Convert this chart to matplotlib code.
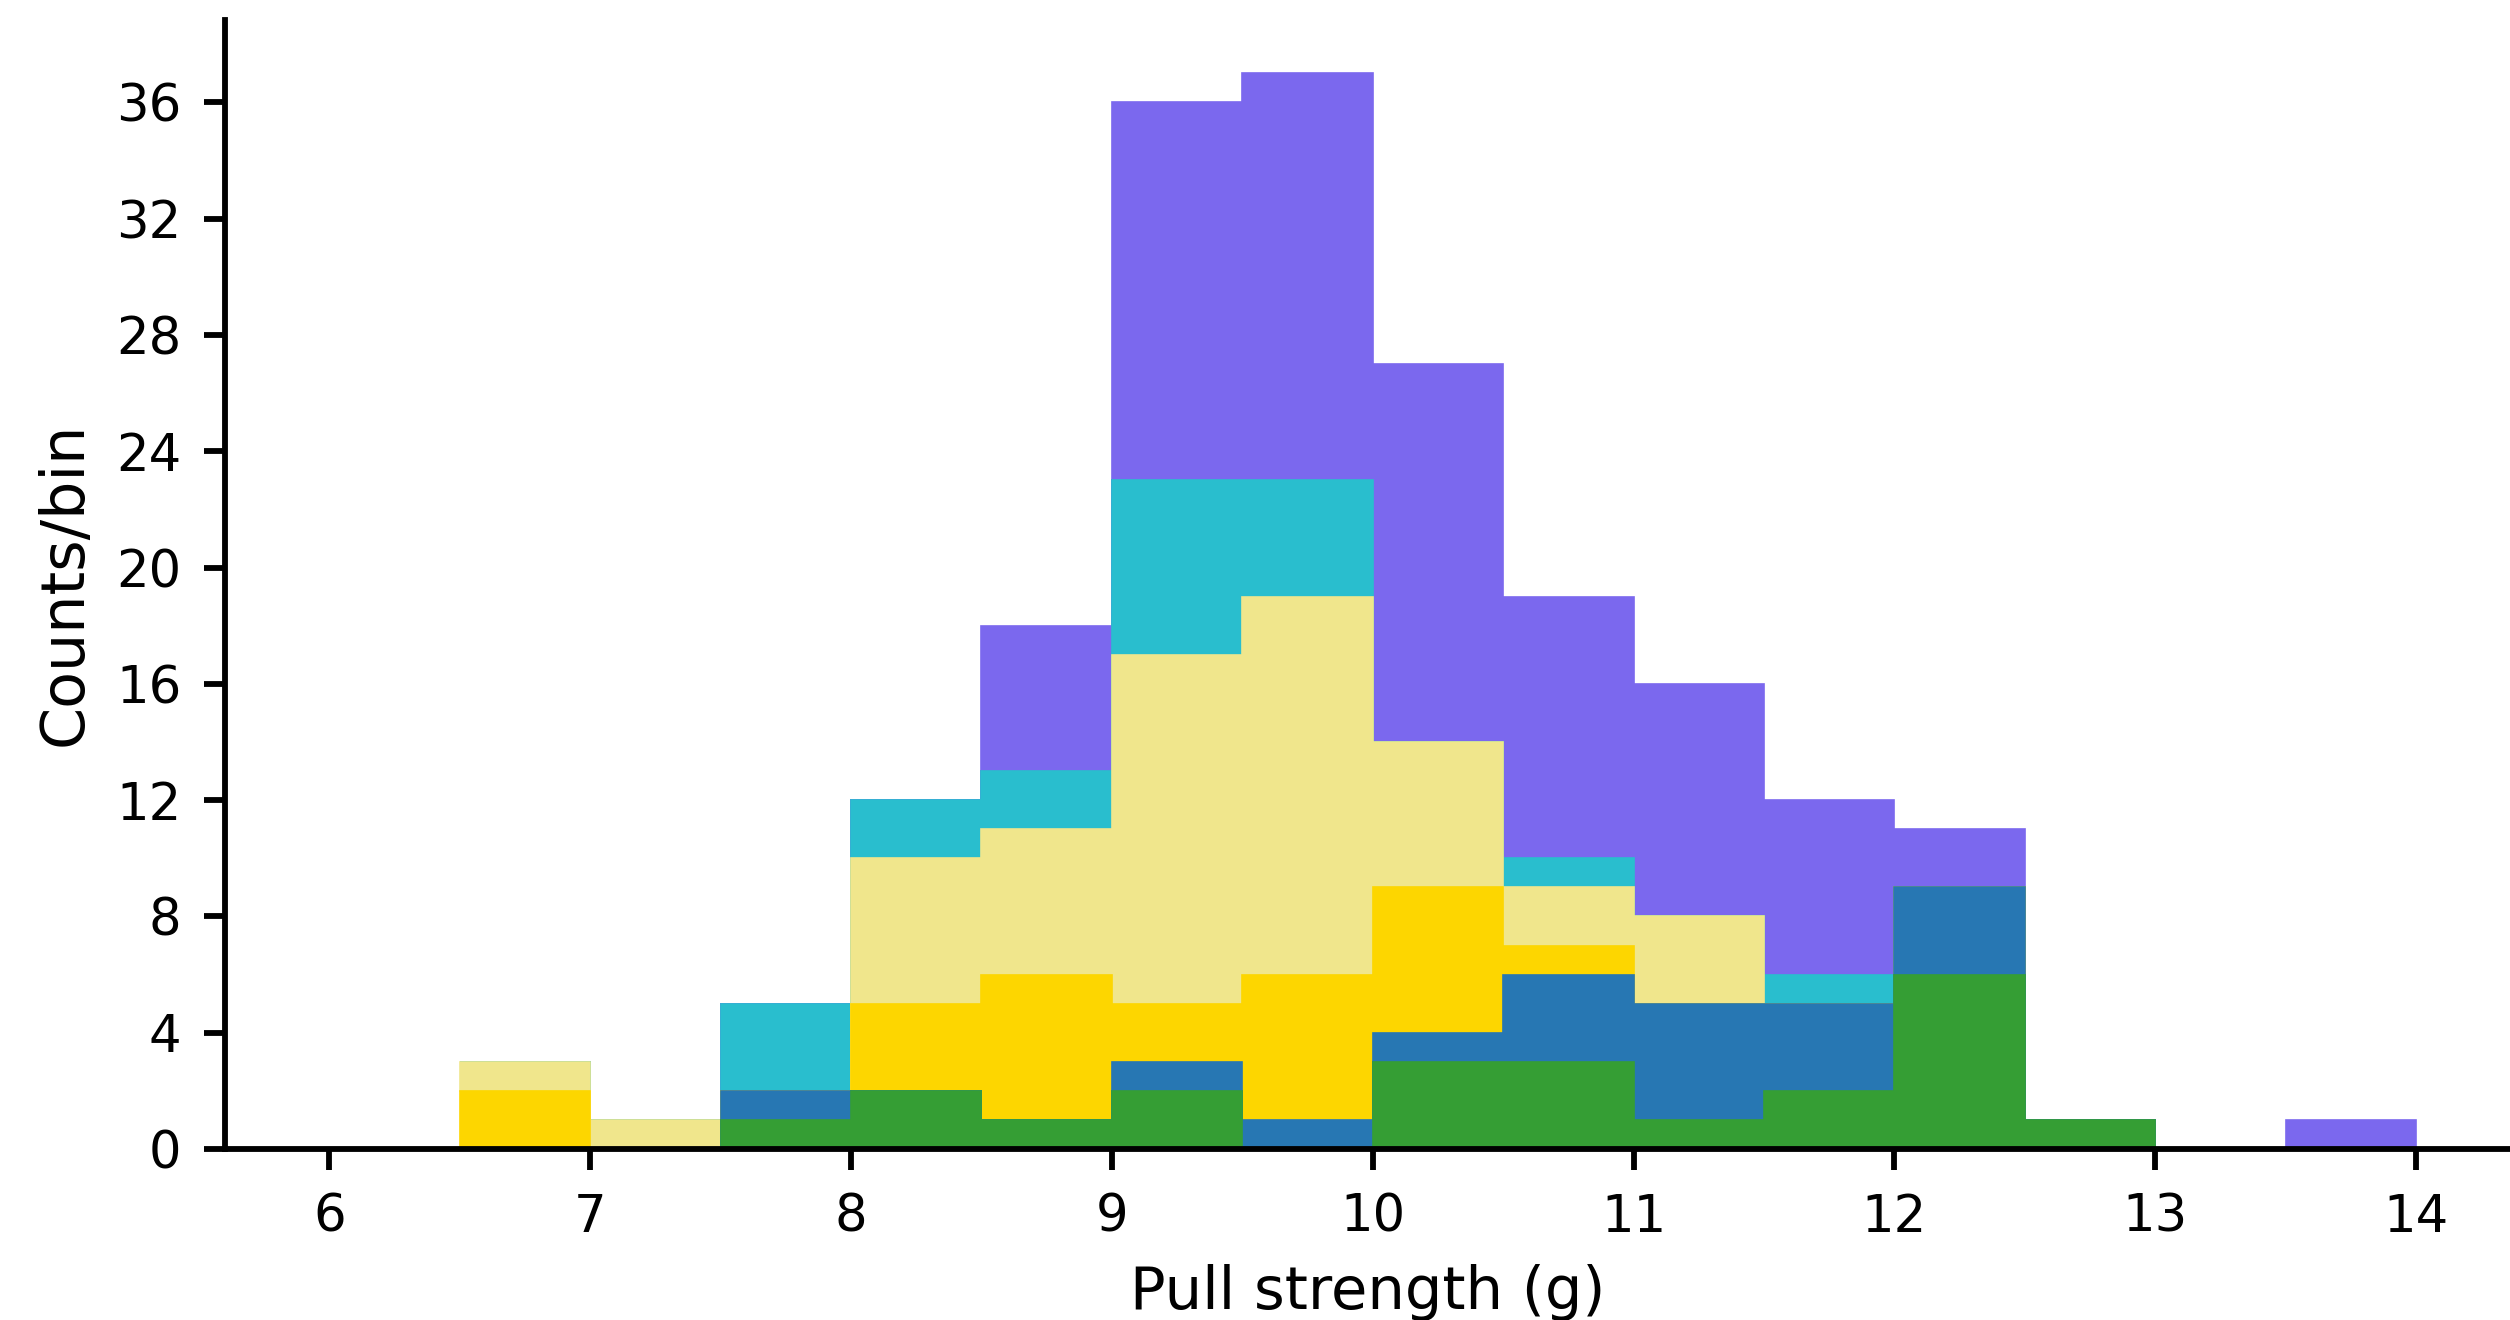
import numpy as np
import matplotlib
matplotlib.use("Agg")
import matplotlib.pyplot as plt

# Data
bin_edges = [6.5, 7.0, 7.5, 8.0, 8.5, 9.0, 9.5, 10.0, 10.5, 11.0, 11.5, 12.0, 12.5, 13.0, 13.5, 14.0]
green_counts  = [0, 0, 1, 2, 1, 2, 0, 3, 3, 1, 2, 6, 1, 0, 0]
blue_counts   = [0, 0, 1, 0, 0, 1, 1, 1, 3, 4, 3, 3, 0, 0, 0]
gold_counts   = [2, 0, 0, 3, 5, 2, 5, 5, 1, 0, 0, 0, 0, 0, 0]
khaki_counts  = [1, 1, 0, 5, 5, 12, 13, 5, 2, 3, 0, 0, 0, 0, 0]
cyan_counts   = [0, 0, 3, 2, 2, 6, 4, 0, 1, 0, 1, 0, 0, 0, 0]
purple_counts = [0, 0, 0, 0, 5, 13, 14, 13, 9, 8, 6, 2, 0, 0, 1]
series_colors = ["#359e34", "#2777b3", "#fdd600", "#f0e68c", "#29bece", "#7b68ee"]
x_ticks = [6, 7, 8, 9, 10, 11, 12, 13, 14]
y_ticks = [0, 4, 8, 12, 16, 20, 24, 28, 32, 36]

edges = np.array(bin_edges)
centers = (edges[:-1] + edges[1:]) / 2
all_counts = [green_counts, blue_counts, gold_counts, khaki_counts, cyan_counts, purple_counts]

fig = plt.figure(figsize=(2510 / 300, 1320 / 300), dpi=300)
ax = fig.add_axes([225 / 2510, 171 / 1320, 1 - 225 / 2510, (1149 - 19.6) / 1320])

n, b, patches = ax.hist([centers] * len(all_counts), bins=edges,
                        weights=all_counts, stacked=True,
                        histtype="stepfilled", color=series_colors)
for plist, c in zip(patches, series_colors):
    for p in plist:
        p.set_edgecolor(c)
        p.set_linewidth(0.4)

ax.set_xlim(5.6, 14.36)
ax.set_ylim(0, 38.85)
ax.set_xticks(x_ticks)
ax.set_yticks(y_ticks)
ax.spines["top"].set_visible(False)
ax.spines["right"].set_visible(False)
for s in ["left", "bottom"]:
    ax.spines[s].set_linewidth(1.4)
ax.tick_params(axis="both", labelsize=12.3, length=5, width=1.4, pad=5.5)
ax.set_xlabel("Pull strength (g)", fontsize=14.2, labelpad=5)
ax.set_ylabel("Counts/bin", fontsize=14.5, labelpad=5)

fig.savefig("out.png", dpi=300)
